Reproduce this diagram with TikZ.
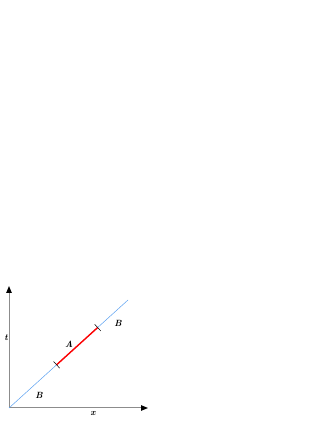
\documentclass[tikz,border=0pt]{standalone}
\usepackage{tikz}
\usetikzlibrary{arrows.meta, calc}
\definecolor{worldblue}{RGB}{90,160,240}
\tikzset{
    axisline/.style={-{Triangle[length=7pt,width=5.5pt,color=black]}, draw=gray!90, line width=1pt},
    worldline/.style={draw=worldblue, line width=0.5pt},
    segline/.style={draw=red, line width=1.4pt},
    tickmark/.style={draw=black, line width=0.5pt},
    lbl/.style={font=\small\bfseries\itshape, inner sep=0pt}
}

\begin{document}
\begin{tikzpicture}[x=1pt,y=1pt]
\useasboundingbox (0,0) rectangle (327,423);

% axes
\coordinate (origin) at (9,15);
\coordinate (ttip) at (9,137);
\coordinate (xtip) at (148,15);
\draw[axisline] (origin) -- (ttip);
\draw[axisline] (origin) -- (xtip);

% world line and marked piece
\coordinate (wend) at (128,123);
\coordinate (astart) at ($(origin)!0.4!(wend)$);
\coordinate (aend) at ($(origin)!0.745!(wend)$);
\draw[worldline] (origin) -- (wend);
\draw[segline] (astart) -- (aend);

% ticks
\draw[tickmark] ($(astart)!4.5pt!90:(wend)$) -- ($(astart)!4.5pt!-90:(wend)$);
\draw[tickmark] ($(aend)!4.5pt!90:(wend)$) -- ($(aend)!4.5pt!-90:(wend)$);

% labels
\node[lbl] (tlab) at (6,85) {t};
\node[lbl] (xlab) at (93,9) {x};
\node[lbl] (blow) at (39,28) {B};
\node[lbl] (alab) at (69,79) {A};
\node[lbl] (bhigh) at (118,100) {B};

\end{tikzpicture}
\end{document}
